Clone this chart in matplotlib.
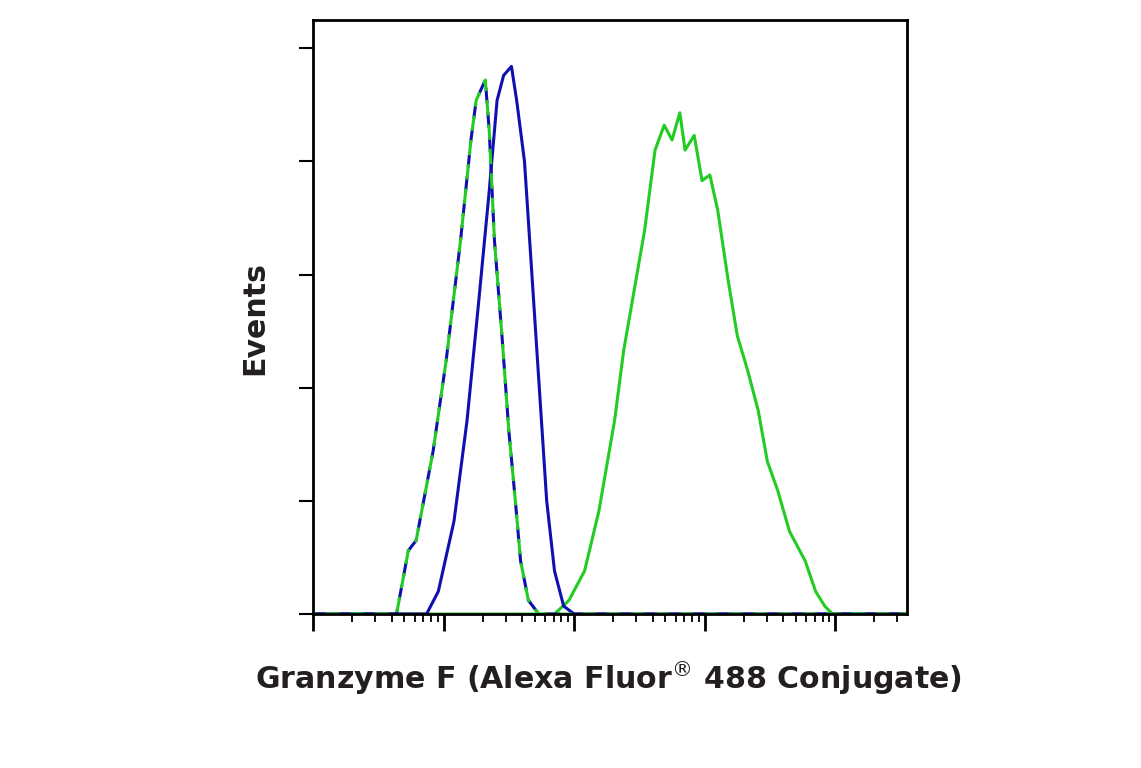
import numpy as np
import matplotlib
matplotlib.use("Agg")
import matplotlib.pyplot as plt

# x in log10 units of fluorescence, y in relative events
iso_x = [0.0, 0.6, 0.64, 0.73, 0.79, 0.92, 1.02, 1.13, 1.21, 1.25, 1.32, 1.35, 1.39, 1.45, 1.5, 1.55, 1.59, 1.65, 1.73, 4.55]
iso_y = [0.0, 0.0, 0.0, 0.56, 0.65, 1.44, 2.24, 3.3, 4.19, 4.54, 4.72, 4.27, 3.3, 2.42, 1.62, 1.0, 0.47, 0.12, 0.0, 0.0]
neg_x = [0.0, 0.87, 0.96, 1.08, 1.18, 1.27, 1.35, 1.41, 1.46, 1.52, 1.56, 1.62, 1.67, 1.73, 1.79, 1.85, 1.92, 2.0, 4.55]
neg_y = [0.0, 0.0, 0.2, 0.82, 1.71, 2.77, 3.74, 4.54, 4.76, 4.84, 4.54, 4.0, 3.12, 2.06, 1.0, 0.38, 0.07, 0.0, 0.0]
pos_x = [0.0, 1.85, 1.96, 2.08, 2.19, 2.31, 2.38, 2.46, 2.54, 2.62, 2.69, 2.75, 2.81, 2.85, 2.92, 2.98, 3.04, 3.1, 3.18, 3.25, 3.33, 3.41, 3.48, 3.56, 3.65, 3.77, 3.85, 3.92, 3.98, 4.55]
pos_y = [0.0, 0.0, 0.12, 0.38, 0.91, 1.71, 2.33, 2.86, 3.39, 4.1, 4.32, 4.19, 4.43, 4.1, 4.23, 3.83, 3.88, 3.57, 2.95, 2.46, 2.15, 1.8, 1.35, 1.09, 0.73, 0.47, 0.2, 0.07, 0.0, 0.0]

fam = ["DejaVu Sans Condensed", "DejaVu Sans"]
fig = plt.figure(figsize=(11.41, 7.68), dpi=100)
ax = fig.add_axes([313/1141, 1-614/768, 594/1141, 594/768])
ax.plot(pos_x, pos_y, color="#22cc22", lw=2.2)
ax.plot(neg_x, neg_y, color="#1010b0", lw=2.2)
ax.plot(iso_x, iso_y, color="#1010b0", lw=2.2, ls=(0, (5, 3)))
ax.plot(iso_x, iso_y, color="#22cc22", lw=2.2, ls=(4, (5, 3)))
ax.set_xlim(0, 4.55)
ax.set_ylim(0, 5.25)
ax.set_xticks(range(5))
ax.set_xticks([d + np.log10(k) for d in range(5) for k in range(2, 10) if d + np.log10(k) < 4.55], minor=True)
ax.set_yticks(range(6))
ax.set_xticklabels([]); ax.set_yticklabels([])
ax.tick_params(axis="x", which="major", length=12, width=2)
ax.tick_params(axis="x", which="minor", length=6, width=1.3)
ax.tick_params(axis="y", which="major", length=10, width=1.5)
for s in ax.spines.values():
    s.set_linewidth(2)
t = fig.text(608/1141, 1-678/768, "Granzyme F (Alexa Fluor$^{®}$ 488 Conjugate)", ha="center", va="center",
         fontsize=24, fontweight="bold", family=fam, color="#231f20")
fig.canvas.draw()
w = t.get_window_extent().width
if w > 720:
    t.set_fontsize(24 * 707 / w)
fig.text(255/1141, 1-318/768, "Events", ha="center", va="center", rotation=90,
         fontsize=t.get_fontsize(), fontweight="bold", family=fam, color="#231f20")
fig.savefig("out.png", dpi=100)
